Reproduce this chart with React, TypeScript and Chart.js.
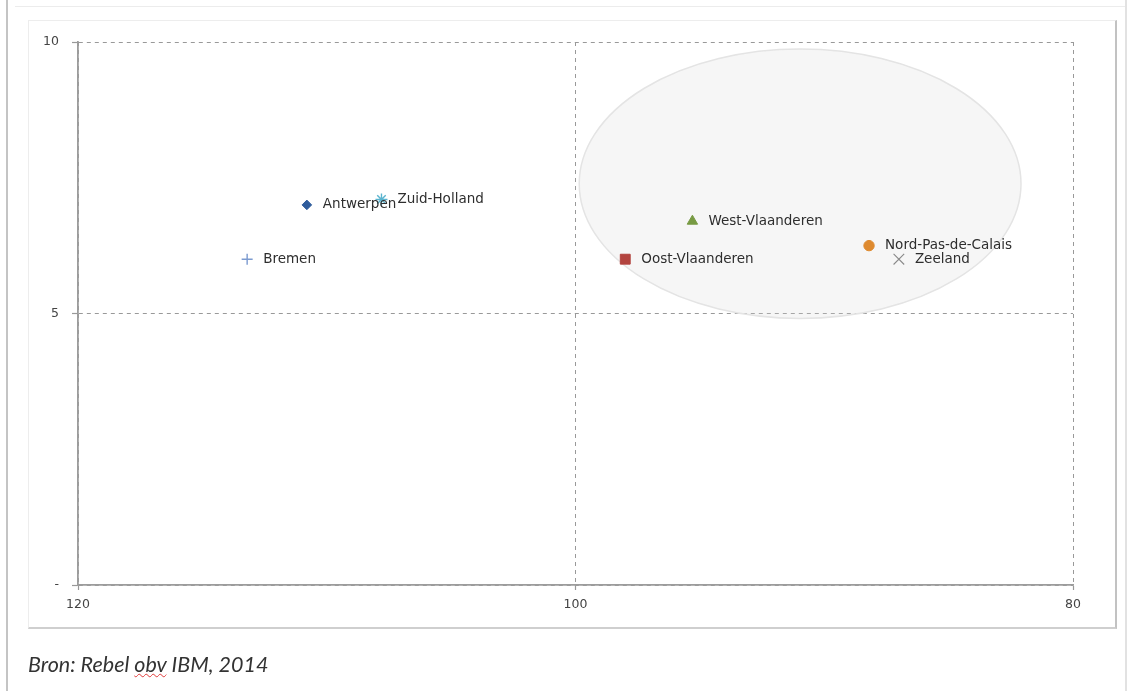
import React, { useEffect, useRef } from "react";
import { Chart, registerables } from "chart.js";

Chart.register(...registerables);

// ---- data ----
const regions = [
  "Antwerpen",
  "Zuid-Holland",
  "Bremen",
  "Oost-Vlaanderen",
  "West-Vlaanderen",
  "Nord-Pas-de-Calais",
  "Zeeland",
];
const xValues = [110.8, 107.8, 113.2, 98.0, 95.3, 88.2, 87.0];
const yValues = [7.0, 7.1, 6.0, 6.0, 6.7, 6.25, 6.0];
const xTickValues = [120, 100, 80];
const yTickValues = [0, 5, 10];
const yTickLabels = ["-", "5", "10"];
// highlighted cluster (ellipse) in data units: centre and radii
const clusterCenter = [90.97, 7.39];
const clusterRadii = [8.88, 2.48];
const sourceText = ["Bron: Rebel ", "obv", " IBM, 2014"];

// ---- styles ----
const pointStyles = ["rectRot", "star", "cross", "rect", "triangle", "circle", "crossRot"];
const pointColors = ["#2f5c9c", "#5ab4cf", "#7c9bd0", "#b3443f", "#779a43", "#de8a2f", "#8a8a8a"];
const pointRadii = [4.8, 6, 5.5, 7, 6, 5.2, 7.5];
const pointBorderWidths = [1, 1.4, 1.4, 1, 1, 1, 1.1];

const ellipsePlugin = {
  id: "clusterEllipse",
  beforeDatasetsDraw(chart: any) {
    const { ctx, scales } = chart;
    const xs = scales.x;
    const ys = scales.y;
    const cx = xs.getPixelForValue(clusterCenter[0]);
    const cy = ys.getPixelForValue(clusterCenter[1]);
    const rx = Math.abs(xs.getPixelForValue(clusterCenter[0] + clusterRadii[0]) - cx);
    const ry = Math.abs(ys.getPixelForValue(clusterCenter[1] + clusterRadii[1]) - cy);
    ctx.save();
    ctx.beginPath();
    ctx.ellipse(cx, cy, rx, ry, 0, 0, Math.PI * 2);
    ctx.fillStyle = "rgba(215,215,215,0.22)";
    ctx.fill();
    ctx.lineWidth = 1.5;
    ctx.strokeStyle = "#e4e4e4";
    ctx.stroke();
    ctx.restore();
  },
};

const labelPlugin = {
  id: "pointLabels",
  afterDatasetsDraw(chart: any) {
    const { ctx } = chart;
    ctx.save();
    ctx.font = '13.5px "DejaVu Sans"';
    ctx.fillStyle = "#2e2e2e";
    ctx.textAlign = "left";
    ctx.textBaseline = "middle";
    chart.data.datasets.forEach((ds: any, i: number) => {
      const meta = chart.getDatasetMeta(i);
      const el = meta.data[0];
      if (!el) return;
      ctx.fillText(ds.label, el.x + 16, el.y);
    });
    ctx.restore();
  },
};

export default function App() {
  const canvasRef = useRef<HTMLCanvasElement | null>(null);

  useEffect(() => {
    if (!canvasRef.current) return;
    const datasets = regions.map((name, i) => ({
      label: name,
      data: [{ x: xValues[i], y: yValues[i] }],
      pointStyle: pointStyles[i],
      pointRadius: pointRadii[i],
      pointHoverRadius: pointRadii[i],
      backgroundColor: pointColors[i],
      borderColor: pointColors[i],
      pointBorderWidth: pointBorderWidths[i],
      borderWidth: pointBorderWidths[i],
    }));

    const chart = new Chart(canvasRef.current, {
      type: "scatter",
      data: { datasets },
      plugins: [ellipsePlugin, labelPlugin],
      options: {
        animation: false,
        responsive: false,
        devicePixelRatio: 1,
        layout: { padding: { left: 0, top: 42, right: 58, bottom: 0 } },
        plugins: {
          legend: { display: false },
          tooltip: { enabled: false },
        },
        scales: {
          x: {
            type: "linear",
            min: 80,
            max: 120,
            reverse: true,
            afterBuildTicks: (scale: any) => {
              scale.ticks = xTickValues.map((v) => ({ value: v }));
            },
            afterFit: (scale: any) => {
              scale.height = 106;
            },
            ticks: {
              font: { family: "DejaVu Sans", size: 12.5 },
              color: "#444444",
              padding: 7,
              maxRotation: 0,
              callback: (v: any) => String(v),
            },
            grid: {
              color: "#999999",
              lineWidth: 1,
              tickLength: 5,
              tickColor: "#999999",
              tickWidth: 1.2,
            },
            border: { display: true, color: "#9c9c9c", width: 1.8, dash: [4, 4] },
          },
          y: {
            type: "linear",
            min: 0,
            max: 10,
            afterBuildTicks: (scale: any) => {
              scale.ticks = yTickValues.map((v) => ({ value: v }));
            },
            afterFit: (scale: any) => {
              scale.width = 78;
            },
            ticks: {
              font: { family: "DejaVu Sans", size: 12.5 },
              color: "#444444",
              padding: 13,
              callback: (v: any) => {
                const idx = yTickValues.indexOf(Number(v));
                return idx >= 0 ? yTickLabels[idx] : "";
              },
            },
            grid: {
              color: "#999999",
              lineWidth: 1,
              tickLength: 6,
              tickColor: "#999999",
              tickWidth: 1.2,
            },
            border: { display: true, color: "#9c9c9c", width: 1.8, dash: [4, 4] },
          },
        },
      },
    } as any);

    return () => {
      chart.destroy();
    };
  }, []);

  return (
    <div
      style={{
        position: "fixed",
        left: 0,
        top: 0,
        width: 1131,
        height: 691,
        background: "#ffffff",
        overflow: "hidden",
      }}
    >
      {/* outer frame lines */}
      <div style={{ position: "absolute", left: 6, top: 0, width: 2, height: 691, background: "#c4c4c4" }} />
      <div style={{ position: "absolute", left: 15, top: 6, width: 1110, height: 1, background: "#ececec" }} />
      <div style={{ position: "absolute", left: 1125, top: 0, width: 2, height: 691, background: "#e2e2e2" }} />
      {/* inner chart box */}
      <div
        style={{
          position: "absolute",
          left: 28,
          top: 20,
          width: 1086,
          height: 606,
          borderTop: "1px solid #ededed",
          borderLeft: "1px solid #ededed",
          borderRight: "2px solid #c2c2c2",
          borderBottom: "2px solid #cfcfcf",
        }}
      />
      <canvas
        ref={canvasRef}
        width={1131}
        height={691}
        style={{ position: "absolute", left: 0, top: 0, width: 1131, height: 691 }}
      />
      <div
        style={{
          position: "absolute",
          left: 28,
          top: 651,
          fontFamily: "Lato, 'Open Sans', sans-serif",
          fontStyle: "italic",
          fontSize: 21.5,
          color: "#333333",
          whiteSpace: "nowrap",
        }}
      >
        {sourceText[0]}
        <span
          style={{
            textDecorationLine: "underline",
            textDecorationStyle: "wavy",
            textDecorationColor: "#e03a3a",
            textDecorationThickness: "1px",
          }}
        >
          {sourceText[1]}
        </span>
        {sourceText[2]}
      </div>
    </div>
  );
}
